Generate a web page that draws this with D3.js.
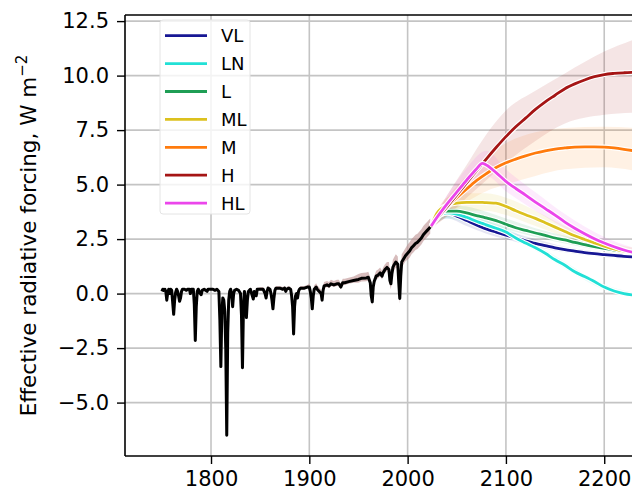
<!DOCTYPE html>
<html>
<head>
<meta charset="utf-8">
<script src="https://cdn.jsdelivr.net/npm/d3@7"></script>
<style>
  body { margin: 0; background: #fff; }
  text { font-family: "DejaVu Sans", sans-serif; fill: #000; }
</style>
</head>
<body>
<svg id="chart" width="632" height="492"></svg>
<script>
// historical forcing, [year, value]
const histData = [
  [1750,0.1],[1751,0.2],[1752,0.15],[1753,0.2],[1754,0.1],[1755,-0.3],[1756,0.05],[1757,0.2],[1758,0.0],[1759,0.2],
  [1760,0.15],[1761,-0.4],[1762,-0.95],[1763,-0.3],[1764,0.05],[1765,0.2],[1766,0.1],[1767,-0.1],[1768,-0.35],[1769,-0.2],
  [1770,0.1],[1771,0.2],[1773,0.2],[1775,0.15],[1776,0.2],[1778,0.2],[1779,0.0],[1780,0.2],[1782,0.2],[1783,-0.5],
  [1784,-2.15],[1785,-0.6],[1786,0.1],[1787,0.2],[1789,0.0],[1790,-0.05],[1791,0.15],[1793,0.2],[1796,0.1],[1797,0.2],
  [1800,0.2],[1802,0.2],[1804,0.15],[1806,0.2],[1808,0.1],[1809,-1.2],[1810,-3.35],[1811,-0.9],[1812,-0.2],[1813,-0.3],
  [1814,-0.8],[1815,-2.5],[1816,-6.5],[1817,-1.8],[1818,-0.3],[1819,0.1],[1820,0.2],[1821,0.0],[1822,-0.6],[1823,0.0],
  [1824,0.15],[1826,0.2],[1828,0.15],[1830,0.0],[1831,-1.0],[1832,-3.4],[1833,-0.6],[1834,0.1],[1835,-0.3],[1836,-1.1],
  [1837,-0.3],[1838,0.1],[1840,0.2],[1842,-0.1],[1843,-0.25],[1844,0.1],[1846,-0.1],[1847,0.2],[1850,0.2],[1853,0.2],
  [1855,0.0],[1856,-0.2],[1857,0.1],[1858,0.25],[1860,0.2],[1861,0.0],[1862,-0.3],[1863,-0.7],[1864,-0.2],[1865,0.15],
  [1866,0.25],[1870,0.25],[1873,0.2],[1875,0.25],[1876,0.1],[1877,0.2],[1879,0.25],[1881,0.2],[1882,-0.1],[1883,-0.6],
  [1884,-1.85],[1885,-0.6],[1886,-0.1],[1887,0.0],[1888,-0.2],[1889,0.1],[1890,0.2],[1891,0.25],[1895,0.25],[1898,0.3],
  [1900,0.3],[1901,0.1],[1902,-0.2],[1903,-0.7],[1904,-0.1],[1905,0.2],[1907,0.3],[1908,0.2],[1912,0.0],[1913,-0.3],
  [1914,0.15],[1915,0.35],[1918,0.4],[1920,0.35],[1922,0.45],[1925,0.4],[1928,0.45],[1930,0.45],[1932,0.3],[1934,0.5],
  [1936,0.5],[1940,0.55],[1945,0.6],[1950,0.65],[1953,0.7],[1958,0.72],[1960,0.75],[1962,0.5],[1963,-0.1],[1964,-0.38],
  [1965,0.3],[1966,0.55],[1968,0.8],[1970,0.85],[1972,0.95],[1974,0.8],[1975,0.95],[1977,1.1],[1979,1.2],[1981,1.1],
  [1982,0.6],[1983,0.45],[1984,0.9],[1985,1.2],[1986,1.3],[1988,1.45],[1990,1.35],[1991,0.5],[1992,-0.22],[1993,0.8],
  [1994,1.45],[1996,1.6],[1998,1.75],[2000,1.85],[2002,1.95],[2004,2.1],[2006,2.2],[2008,2.3],[2010,2.35],[2012,2.45],
  [2014,2.55],[2016,2.7],[2018,2.8],[2020,2.9],[2022,3.0],[2023,3.05]
];
// historical uncertainty by era: [from year, below, above]
const histSpread = [[1750,0.04,0.06],[1850,0.06,0.1],[1900,0.1,0.18],[1950,0.15,0.25],[1980,0.25,0.35],[2000,0.3,0.4]];

// scenarios
const scenNames = ["VL", "LN", "L", "ML", "M", "H", "HL"];
const scenColors = ["#171794", "#22e0d6", "#1f9e55", "#dcc11e", "#ff7b0d", "#a51515", "#eb46eb"];
const scenYears = [2024,2030,2040,2050,2060,2070,2076,2080,2090,2100,2110,2120,2130,2140,2150,2160,2170,2180,2190,2200,2210,2220,2230];
const scenVL = [3.1,3.5,3.7,3.55,3.35,3.15,3.04,2.97,2.82,2.68,2.55,2.42,2.3,2.2,2.1,2.02,1.95,1.88,1.83,1.79,1.75,1.71,1.68];
const scenLN = [3.1,3.5,3.7,3.65,3.5,3.32,3.22,3.15,3.0,2.82,2.55,2.32,2.1,1.85,1.55,1.3,1.0,0.78,0.55,0.3,0.12,0.0,-0.07];
const scenL  = [3.1,3.55,3.78,3.78,3.7,3.58,3.52,3.47,3.35,3.18,3.02,2.9,2.78,2.67,2.55,2.46,2.35,2.25,2.15,2.07,2.0,1.94,1.88];
const scenML = [3.1,3.7,4.05,4.15,4.18,4.18,4.18,4.17,4.15,4.0,3.8,3.62,3.45,3.25,3.05,2.85,2.65,2.48,2.32,2.18,2.05,1.95,1.88];
const scenM  = [3.1,3.45,3.95,4.4,4.8,5.18,5.38,5.5,5.78,6.0,6.17,6.32,6.45,6.55,6.63,6.68,6.72,6.73,6.73,6.72,6.68,6.62,6.55];
const scenH  = [3.1,3.45,3.98,4.53,5.08,5.63,5.95,6.17,6.7,7.2,7.65,8.05,8.45,8.8,9.1,9.4,9.62,9.8,9.95,10.05,10.1,10.13,10.15];
const scenHL = [3.1,3.5,4.1,4.65,5.2,5.72,5.97,5.9,5.55,5.15,4.82,4.52,4.2,3.9,3.6,3.28,3.0,2.75,2.52,2.32,2.15,2.0,1.88];

// uncertainty bands, [low, high] at bandYears
const bandYears = [2024,2040,2060,2080,2100,2130,2160,2200,2230];
const bandVL = [[3.0,3.3],[3.45,3.95],[3.1,3.6],[2.75,3.2],[2.5,2.9],[2.15,2.5],[1.9,2.15],[1.68,1.9],[1.58,1.8]];
const bandLN = [[3.0,3.3],[3.45,3.95],[3.25,3.75],[2.95,3.35],[2.65,3.0],[1.98,2.28],[1.15,1.45],[0.18,0.42],[-0.18,0.05]];
const bandL  = [[3.0,3.3],[3.5,4.05],[3.4,4.0],[3.2,3.75],[2.95,3.45],[2.6,3.0],[2.3,2.65],[1.95,2.2],[1.75,2.0]];
const bandML = [[3.0,3.3],[3.7,4.4],[3.8,4.6],[3.8,4.6],[3.6,4.4],[3.1,3.8],[2.6,3.1],[2.0,2.4],[1.7,2.1]];
const bandM  = [[3.0,3.3],[3.55,4.4],[4.2,5.4],[4.7,6.3],[5.0,6.9],[5.4,7.4],[5.7,7.6],[5.8,7.65],[5.65,7.6]];
const bandH  = [[3.0,3.3],[3.55,4.5],[4.4,5.9],[5.2,7.3],[6.0,8.4],[7.0,9.3],[7.8,10.1],[8.2,11.1],[8.3,11.65]];
const bandHL = [[3.0,3.3],[3.8,4.5],[4.75,5.75],[5.4,6.55],[4.7,5.7],[3.8,4.65],[3.0,3.65],[2.1,2.6],[1.7,2.1]];

const scenValues = [scenVL, scenLN, scenL, scenML, scenM, scenH, scenHL];
const scenBands = [bandVL, bandLN, bandL, bandML, bandM, bandH, bandHL];

const yTicks = [-5, -2.5, 0, 2.5, 5, 7.5, 10, 12.5];
const xTicks = [1800, 1900, 2000, 2100, 2200];

const svg = d3.select("#chart");
const mLeft = 125, mTop = 15, mBottom = 456, mRight = 936;

const x = d3.scaleLinear().domain([1712.5, 2537.5]).range([mLeft, mRight]);
const y = d3.scaleLinear().domain([-7.45, 12.78]).range([mBottom, mTop]);

svg.append("defs").append("clipPath").attr("id", "plotclip")
  .append("rect").attr("x", mLeft).attr("y", mTop).attr("width", mRight - mLeft).attr("height", mBottom - mTop);

// grid
const grid = svg.append("g");
grid.selectAll(".gx").data(xTicks).enter().append("line")
  .attr("x1", d => x(d)).attr("x2", d => x(d)).attr("y1", mTop).attr("y2", mBottom)
  .attr("stroke", "#c4c4c4").attr("stroke-width", 1.6);
grid.selectAll(".gy").data(yTicks).enter().append("line")
  .attr("x1", mLeft).attr("x2", mRight).attr("y1", d => y(d)).attr("y2", d => y(d))
  .attr("stroke", "#c4c4c4").attr("stroke-width", 1.6);

const plot = svg.append("g").attr("clip-path", "url(#plotclip)");

// historical band
function spreadFor(yr) {
  let s = histSpread[0];
  histSpread.forEach(h => { if (yr >= h[0]) s = h; });
  return s;
}
const histArea = d3.area()
  .x(d => x(d[0]))
  .y0(d => y(d[1] - spreadFor(d[0])[1]))
  .y1(d => y(d[1] + spreadFor(d[0])[2]));
plot.append("path").datum(histData)
  .attr("d", histArea).attr("fill", "#bc8f8f").attr("opacity", 0.6);

// scenario bands
const bandArea = d3.area()
  .x((d, i) => x(bandYears[i]))
  .y0(d => y(d[0])).y1(d => y(d[1]))
  .curve(d3.curveMonotoneX);
scenBands.forEach((b, k) => {
  plot.append("path").datum(b)
    .attr("d", bandArea).attr("fill", scenColors[k]).attr("opacity", 0.11);
});

// historical line
plot.append("path").datum(histData)
  .attr("d", d3.line().x(d => x(d[0])).y(d => y(d[1])))
  .attr("fill", "none").attr("stroke", "#000").attr("stroke-width", 3)
  .attr("stroke-linejoin", "round");

// scenario lines with white halo
const scenLine = d3.line()
  .x((d, i) => x(scenYears[i])).y(d => y(d))
  .curve(d3.curveMonotoneX);
scenValues.forEach((v, k) => {
  plot.append("path").datum(v).attr("d", scenLine)
    .attr("fill", "none").attr("stroke", "#fff").attr("stroke-width", 5);
  plot.append("path").datum(v).attr("d", scenLine)
    .attr("fill", "none").attr("stroke", scenColors[k]).attr("stroke-width", 2.8);
});

// axes
const yAxis = svg.append("g").attr("transform", `translate(${mLeft},0)`)
  .call(d3.axisLeft(y).tickValues(yTicks).tickFormat(d3.format(".1f")).tickSize(8).tickPadding(8));
const xAxis = svg.append("g").attr("transform", `translate(0,${mBottom})`)
  .call(d3.axisBottom(x).tickValues(xTicks).tickFormat(d3.format("d")).tickSize(8).tickPadding(7));
[yAxis, xAxis].forEach(a => {
  a.select(".domain").remove();
  a.selectAll(".tick line").attr("stroke", "#000").attr("stroke-width", 1.4);
  a.selectAll(".tick text").attr("font-size", 21).attr("font-family", "DejaVu Sans");
});

// spines
svg.append("line").attr("x1", mLeft).attr("x2", mLeft).attr("y1", mTop).attr("y2", mBottom)
  .attr("stroke", "#000").attr("stroke-width", 1.6);
svg.append("line").attr("x1", mLeft).attr("x2", mRight).attr("y1", mTop).attr("y2", mTop)
  .attr("stroke", "#000").attr("stroke-width", 1.6);
svg.append("line").attr("x1", mLeft).attr("x2", mRight).attr("y1", mBottom).attr("y2", mBottom)
  .attr("stroke", "#000").attr("stroke-width", 1.6);

// y label
const ylab = svg.append("text")
  .attr("transform", `translate(36,${(mTop + mBottom) / 2}) rotate(-90)`)
  .attr("text-anchor", "middle").attr("font-size", 21.5);
ylab.append("tspan").text("Effective radiative forcing, W m");
ylab.append("tspan").attr("dy", -9).attr("font-size", 15).text("\u22122");

// legend
const leg = svg.append("g");
leg.append("rect").attr("x", 160).attr("y", 20).attr("width", 90).attr("height", 194)
  .attr("rx", 3).attr("fill", "#fff").attr("fill-opacity", 0.8)
  .attr("stroke", "#e4e4e4").attr("stroke-width", 1);
scenNames.forEach((n, i) => {
  const cy = 35.7 + i * 27.9;
  leg.append("line").attr("x1", 165).attr("x2", 207).attr("y1", cy).attr("y2", cy)
    .attr("stroke", scenColors[i]).attr("stroke-width", 2.8);
  leg.append("text").attr("x", 221).attr("y", cy + 6.5).attr("font-size", 18).text(n);
});
</script>
</body>
</html>
